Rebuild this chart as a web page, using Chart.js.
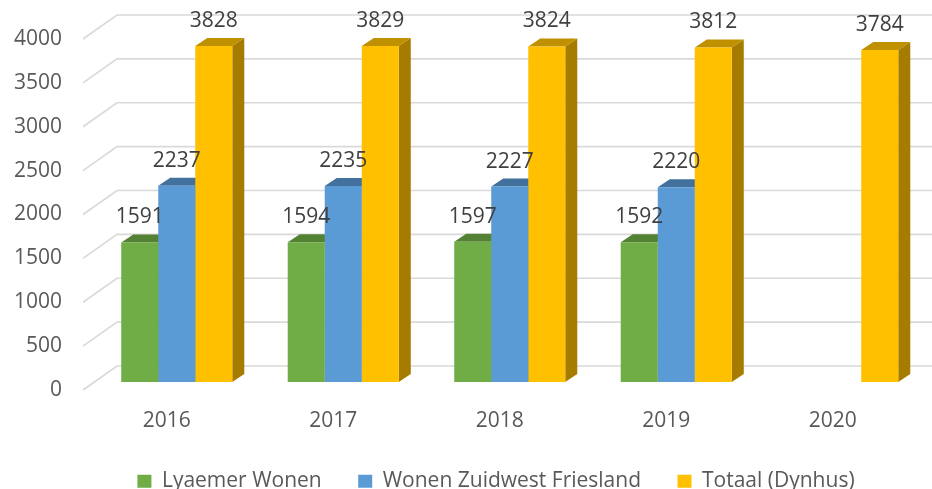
<!DOCTYPE html>
<html>
<head>
<meta charset="utf-8">
<script src="https://cdn.jsdelivr.net/npm/chart.js@4.4.1/dist/chart.umd.min.js"></script>
<style>
  html, body { margin: 0; padding: 0; background: #fff; }
</style>
</head>
<body>
<canvas id="barChart" width="932" height="489"></canvas>
<script>
const years = ['2016', '2017', '2018', '2019', '2020'];
const lyaemerWonen = [1591, 1594, 1597, 1592, null];
const wonenZwf = [2237, 2235, 2227, 2220, null];
const totaalDynhus = [3828, 3829, 3824, 3812, 3784];

const FONT = '"Open Sans", "Liberation Sans", sans-serif';
const DX = 12, DY = 8; // bar depth

function poly(ctx, pts) {
  ctx.beginPath();
  ctx.moveTo(pts[0][0], pts[0][1]);
  for (let k = 1; k < pts.length; k++) ctx.lineTo(pts[k][0], pts[k][1]);
  ctx.closePath();
  ctx.fill();
}

// fake 3D look: back-wall gridlines, bar tops and sides, value labels
const depth3d = {
  id: 'depth3d',
  afterLayout(chart) {
    // legend sits right of centre and lower in the original
    const lg = chart.legend;
    lg.left += 33; lg.right += 33;
    lg.top -= 25; lg.bottom -= 25;
  },
  beforeDatasetsDraw(chart) {
    const { ctx, scales: { y } } = chart;
    ctx.save();
    ctx.strokeStyle = '#d9d9d9';
    ctx.lineWidth = 1.6;
    y.ticks.forEach(t => {
      const py = y.getPixelForValue(t.value);
      ctx.beginPath();
      ctx.moveTo(83, py + 8);
      ctx.lineTo(117, py - 16);
      ctx.lineTo(chart.width, py - 16);
      ctx.stroke();
    });
    chart.data.datasets.forEach((ds, i) => {
      chart.getDatasetMeta(i).data.forEach((bar, j) => {
        if (ds.data[j] == null) return;
        const p = bar.getProps(['x', 'y', 'base', 'width'], true);
        const l = p.x - p.width / 2, r = p.x + p.width / 2;
        ctx.fillStyle = ds.sideColor;
        poly(ctx, [[r, p.y], [r + DX, p.y - DY], [r + DX, p.base - DY], [r, p.base]]);
        ctx.fillStyle = ds.topColor;
        poly(ctx, [[l, p.y], [r, p.y], [r + DX, p.y - DY], [l + DX, p.y - DY]]);
      });
    });
    ctx.restore();
  },
  afterDatasetsDraw(chart) {
    const ctx = chart.ctx;
    ctx.save();
    ctx.font = '21px ' + FONT;
    ctx.fillStyle = '#404040';
    ctx.textAlign = 'center';
    ctx.textBaseline = 'middle';
    chart.data.datasets.forEach((ds, i) => {
      chart.getDatasetMeta(i).data.forEach((bar, j) => {
        if (ds.data[j] == null) return;
        ctx.fillText(ds.data[j], bar.x, bar.y - 25);
      });
    });
    ctx.restore();
  }
};

const ctx = document.getElementById('barChart').getContext('2d');
new Chart(ctx, {
  type: 'bar',
  data: {
    labels: years,
    datasets: [
      { label: 'Lyaemer Wonen', data: lyaemerWonen, backgroundColor: '#70ad47', topColor: '#548235', sideColor: '#4e7a32' },
      { label: 'Wonen Zuidwest Friesland', data: wonenZwf, backgroundColor: '#5b9bd5', topColor: '#41719c', sideColor: '#3a6690' },
      { label: 'Totaal (Dynhus)', data: totaalDynhus, backgroundColor: '#ffc000', topColor: '#bf9000', sideColor: '#a67c00' }
    ]
  },
  options: {
    responsive: false,
    animation: false,
    layout: { padding: { left: 0, right: 6, top: 31, bottom: -37.7 } },
    datasets: {
      bar: { categoryPercentage: 0.667, barPercentage: 1, borderWidth: 0 }
    },
    scales: {
      x: {
        grid: { display: false, drawTicks: false },
        border: { display: false },
        ticks: { color: '#595959', font: { family: FONT, size: 21 }, padding: 26, labelOffset: -10 }
      },
      y: {
        min: 0, max: 4000,
        afterFit(scale) {
          scale.width = 93.5;
          scale.paddingTop = 0;
          scale.paddingBottom = 0;
        },
        grid: { display: false, drawTicks: false },
        border: { display: false },
        ticks: {
          stepSize: 500, color: '#595959', font: { family: FONT, size: 21 }, padding: 31.5, labelOffset: 8,
          callback: v => String(v)
        }
      }
    },
    plugins: {
      tooltip: { enabled: false },
      legend: {
        position: 'bottom',
        labels: { boxWidth: 14, boxHeight: 13, padding: 36.5, color: '#595959', font: { family: FONT, size: 21 } }
      }
    }
  },
  plugins: [depth3d]
});
</script>
</body>
</html>
